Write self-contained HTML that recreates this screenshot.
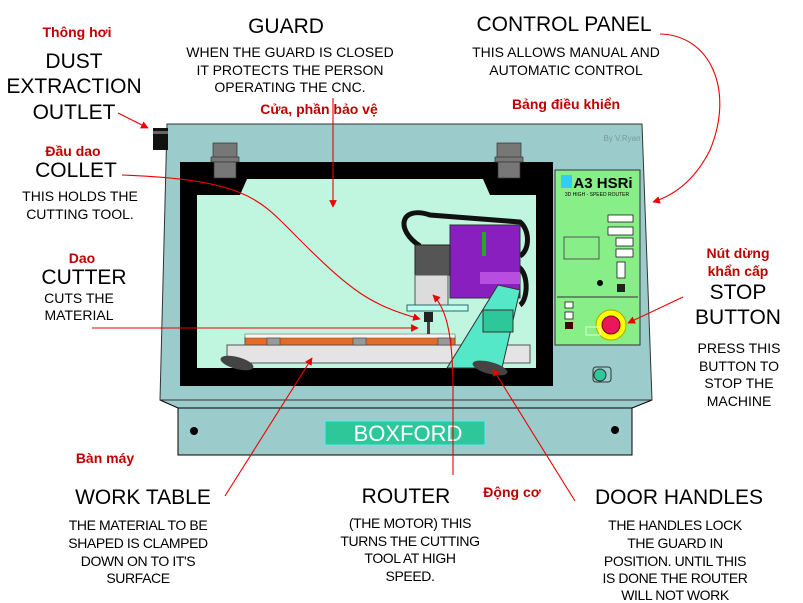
<!DOCTYPE html>
<html><head><meta charset="utf-8"><style>
html,body{margin:0;padding:0;background:#fff;}
svg{display:block;font-family:"Liberation Sans","Noto Sans CJK SC",sans-serif;}
.t{font-size:21px;fill:#000;text-anchor:middle;}
.s{font-size:14px;fill:#000;text-anchor:middle;}
.r{font-size:14px;fill:#c00000;font-weight:bold;text-anchor:middle;}
</style></head><body>
<svg width="803" height="603" viewBox="0 0 803 603" xmlns="http://www.w3.org/2000/svg">
<defs><marker id="a" viewBox="0 0 10 10" refX="9" refY="5" markerWidth="7" markerHeight="7" orient="auto"><path d="M0,0L10,5L0,10z" fill="#e00"/></marker></defs>
<!-- machine lower -->
<polygon points="160,400 652,400 632,408 178,408" fill="#9ccbcb" stroke="#000"/>
<rect x="178" y="408" width="454" height="47" fill="#9ccbcb" stroke="#000"/>
<circle cx="194" cy="431" r="4"/><circle cx="615" cy="430" r="4"/>
<rect x="325" y="421" width="160" height="24" fill="#2dc79a" stroke="#5ee" />
<text x="408" y="441" font-size="22" fill="#fff" text-anchor="middle">BOXFORD</text>
<!-- upper body -->
<polygon points="167,124 642,124 652,400 160,400" fill="#9ccbcb" stroke="#333"/>
<rect x="153" y="128" width="15" height="22" fill="#111"/><rect x="153" y="131" width="15" height="3" fill="#666"/>
<text x="622" y="141" font-size="8" fill="#7a9a9a" text-anchor="middle">By V.Ryan</text>
<rect x="180" y="162" width="373" height="224" fill="#000"/>
<polygon points="247,179 483,179 490,195 536,195 536,368 197,368 197,195 240,195" fill="#c0f5e0"/>
<!-- hinges -->
<g fill="#777" stroke="#333" stroke-width="0.7"><rect x="213" y="143" width="24" height="15"/><rect x="211" y="157" width="28" height="5"/><rect x="214" y="162" width="22" height="16"/>
<rect x="497" y="143" width="24" height="15"/><rect x="495" y="157" width="28" height="5"/><rect x="498" y="162" width="22" height="16"/></g>
<!-- table -->
<rect x="227" y="345" width="303" height="18" fill="#e4e4e4" stroke="#555"/>
<rect x="245" y="337" width="210" height="8" fill="#e86a20" stroke="#555"/>
<rect x="245" y="334" width="210" height="4" fill="#f4f4f4" stroke="#555" stroke-width="0.5"/>
<g fill="#999" stroke="#333" stroke-width="0.5"><rect x="267" y="338" width="13" height="7"/><rect x="353" y="338" width="13" height="7"/><rect x="438" y="338" width="13" height="7"/></g>
<!-- cables -->
<path d="M420,246 C395,230 400,205 430,215 L520,222 C530,230 530,250 520,256" fill="none" stroke="#111" stroke-width="5"/>
<path d="M515,265 C530,270 528,300 520,305" fill="none" stroke="#111" stroke-width="5"/>
<!-- router -->
<rect x="450" y="225" width="70" height="73" fill="#8a1fc0" stroke="#333"/>
<rect x="480" y="272" width="40" height="12" fill="#b84ee0"/>
<path d="M484,232 L484,256" stroke="#2a2" stroke-width="4"/>
<rect x="415" y="245" width="35" height="30" fill="#555" stroke="#222"/>
<rect x="415" y="275" width="33" height="30" fill="#dcdcdc" stroke="#555"/>
<rect x="407" y="305" width="61" height="6" fill="#bfe" stroke="#366"/>
<rect x="424" y="312" width="9" height="10" fill="#222"/><rect x="427" y="322" width="3" height="12" fill="#444"/>
<polygon points="498,285 520,290 502,368 447,368" fill="#55e8c8" stroke="#333"/>
<rect x="483" y="310" width="30" height="22" fill="#2dc79a" stroke="#333"/>
<!-- handles -->
<ellipse cx="237" cy="363" rx="17" ry="6" fill="#444" transform="rotate(15 237 363)"/>
<ellipse cx="490" cy="368" rx="18" ry="6" fill="#444" transform="rotate(15 490 368)"/>
<!-- panel -->
<rect x="555" y="170" width="85" height="175" fill="#88ee88" stroke="#333"/>
<line x1="557" y1="297" x2="638" y2="297" stroke="#333"/>
<rect x="561" y="175" width="11" height="13" fill="#3cf"/>
<text x="603" y="188" font-size="15" font-weight="bold" text-anchor="middle">A3 HSRi</text>
<text x="597" y="196" font-size="5" text-anchor="middle">3D HIGH - SPEED ROUTER</text>
<g fill="#fff" stroke="#000" stroke-width="0.7"><rect x="608" y="215" width="25" height="7"/><rect x="608" y="227" width="25" height="8"/><rect x="616" y="238" width="17" height="8"/><rect x="616" y="249" width="17" height="8"/><rect x="617" y="262" width="8" height="16"/><rect x="565" y="302" width="8" height="6"/><rect x="565" y="312" width="8" height="7"/></g>
<rect x="617" y="284" width="8" height="8" fill="#222"/><rect x="565" y="322" width="8" height="7" fill="#400"/>
<rect x="564" y="237" width="35" height="22" fill="none" stroke="#555"/>
<circle cx="600" cy="283" r="3" fill="#000"/>
<circle cx="611" cy="325" r="15" fill="#ff0" stroke="#aa0"/><circle cx="611" cy="325" r="9" fill="#e8185a" stroke="#800"/>
<rect x="586" y="327" width="14" height="8" fill="none" stroke="#dfd"/>
<rect x="593" y="367" width="18" height="15" rx="3" fill="#9cc" stroke="#333"/><circle cx="600" cy="375" r="6" fill="#2dc79a" stroke="#333"/>
<!-- text -->
<text class="r" x="77" y="37">Thông  hơi</text>
<text class="t" x="74" y="68">DUST</text><text class="t" x="74" y="93">EXTRACTION</text><text class="t" x="74" y="119">OUTLET</text>
<text class="t" x="286" y="33">GUARD</text>
<text class="s" x="290" y="57">WHEN THE GUARD IS CLOSED</text><text class="s" x="290" y="75">IT PROTECTS THE PERSON</text><text class="s" x="290" y="92">OPERATING THE CNC.</text>
<text class="r" x="319" y="114">Cửa, phần bảo vệ</text>
<text class="t" x="564" y="31">CONTROL PANEL</text>
<text class="s" x="566" y="57">THIS ALLOWS MANUAL AND</text><text class="s" x="566" y="75">AUTOMATIC CONTROL</text>
<text class="r" x="566" y="109">Bảng điều khiển</text>
<text class="r" x="73" y="156">Đầu dao</text>
<text class="t" x="76" y="177">COLLET</text>
<text class="s" x="80" y="201">THIS HOLDS THE</text><text class="s" x="80" y="219">CUTTING TOOL.</text>
<text class="r" x="82" y="263">Dao</text>
<text class="t" x="84" y="284">CUTTER</text>
<text class="s" x="79" y="303">CUTS THE</text><text class="s" x="79" y="320">MATERIAL</text>
<text class="r" x="738" y="258">Nút dừng</text><text class="r" x="738" y="276">khẩn cấp</text>
<text class="t" x="738" y="299">STOP</text><text class="t" x="738" y="324">BUTTON</text>
<text class="s" x="739" y="353">PRESS THIS</text><text class="s" x="739" y="371">BUTTON TO</text><text class="s" x="739" y="388">STOP THE</text><text class="s" x="739" y="406">MACHINE</text>
<text class="r" x="105" y="463">Bàn máy</text>
<text class="t" x="143" y="504">WORK TABLE</text>
<text class="s" x="138" y="530" letter-spacing="-0.4">THE MATERIAL TO BE</text><text class="s" x="138" y="548" letter-spacing="-0.4">SHAPED IS CLAMPED</text><text class="s" x="138" y="566" letter-spacing="-0.4">DOWN ON TO IT'S</text><text class="s" x="138" y="583" letter-spacing="-0.4">SURFACE</text>
<text class="t" x="406" y="503">ROUTER</text>
<text class="r" x="512" y="497">Động cơ</text>
<text class="s" x="410" y="528" letter-spacing="-0.4">(THE MOTOR) THIS</text><text class="s" x="410" y="546" letter-spacing="-0.4">TURNS THE CUTTING</text><text class="s" x="410" y="563" letter-spacing="-0.4">TOOL AT HIGH</text><text class="s" x="410" y="581" letter-spacing="-0.4">SPEED.</text>
<text class="t" x="679" y="504">DOOR HANDLES</text>
<text class="s" x="675" y="530" letter-spacing="-0.4">THE HANDLES LOCK</text><text class="s" x="675" y="548" letter-spacing="-0.4">THE GUARD IN</text><text class="s" x="675" y="566" letter-spacing="-0.4">POSITION. UNTIL THIS</text><text class="s" x="675" y="583" letter-spacing="-0.4">IS DONE THE ROUTER</text><text class="s" x="675" y="600" letter-spacing="-0.4">WILL NOT WORK</text>
<!-- arrows -->
<g fill="none" stroke="#e00" stroke-width="1.1" marker-end="url(#a)">
<line x1="118" y1="113" x2="148" y2="128"/>
<line x1="333" y1="98" x2="333" y2="207"/>
<path d="M660,34 C710,35 735,90 710,150 C695,180 675,195 653,202"/>
<path d="M122,175 C250,180 260,200 300,240 C350,290 370,305 420,319"/>
<line x1="92" y1="328" x2="418" y2="328"/>
<line x1="683" y1="297" x2="628" y2="323"/>
<line x1="225" y1="496" x2="312" y2="358"/>
<path d="M453,475 L453,380 C452,340 448,310 433,295"/>
<line x1="575" y1="501" x2="493" y2="369"/>
</g>
</svg>
</body></html>
